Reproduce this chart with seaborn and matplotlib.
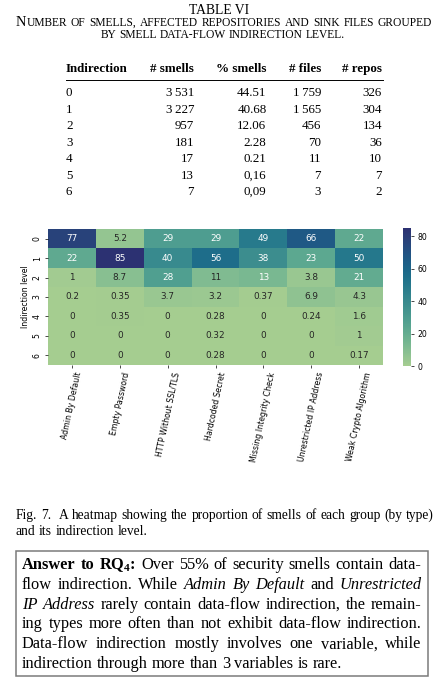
import numpy as np
import pandas as pd
import matplotlib
matplotlib.use("Agg")
import matplotlib.pyplot as plt
import seaborn as sns
from matplotlib.transforms import IdentityTransform
from matplotlib.patches import Rectangle
from matplotlib.lines import Line2D

# ---------------- data ----------------
levels = ["0", "1", "2", "3", "4", "5", "6"]
smell_types = ["Admin By Default", "Empty Password", "HTTP Without SSL/TLS",
               "Hardcoded Secret", "Missing Integrity Check",
               "Unrestricted IP Address", "Weak Crypto Algorithm"]
admin_by_default = [77, 22, 1, 0.2, 0, 0, 0]
empty_password = [5.2, 85, 8.7, 0.35, 0.35, 0, 0]
http_without_tls = [29, 40, 28, 3.7, 0, 0, 0]
hardcoded_secret = [29, 56, 11, 3.2, 0.28, 0.32, 0.28]
missing_integrity = [49, 38, 13, 0.37, 0, 0, 0]
unrestricted_ip = [66, 23, 3.8, 6.9, 0.24, 0, 0]
weak_crypto = [22, 50, 21, 4.3, 1.6, 1, 0.17]
cbar_ticks = [0, 20, 40, 60, 80]

table_header = ["Indirection", "# smells", "% smells", "# files", "# repos"]
tab_level = ["0", "1", "2", "3", "4", "5", "6"]
tab_smells = ["3\u2009531", "3\u2009227", "957", "181", "17", "13", "7"]
tab_pct = ["44.51", "40.68", "12.06", "2.28", "0.21", "0,16", "0,09"]
tab_files = ["1\u2009759", "1\u2009565", "456", "70", "11", "7", "3"]
tab_repos = ["326", "304", "134", "36", "10", "7", "2"]

# ---------------- figure ----------------
W, H = 438, 680
plt.rcParams["mathtext.fontset"] = "custom"
plt.rcParams["mathtext.rm"] = "Liberation Serif"
plt.rcParams["mathtext.bf"] = "Liberation Serif:bold"
plt.rcParams["mathtext.it"] = "Liberation Serif:italic"
fig = plt.figure(figsize=(W / 100, H / 100), dpi=100)
renderer = fig.canvas.get_renderer()
SERIF = ["Liberation Serif", "DejaVu Serif"]
ID = IdentityTransform()


def kw(size, style="n"):
    d = dict(family=SERIF, fontsize=size, color="black")
    if style == "b":
        d["fontweight"] = "bold"
    if style == "i":
        d["fontstyle"] = "italic"
    return d


def inkw(txt, k):
    t = fig.text(0, 0, txt, transform=ID, **k)
    w = t.get_window_extent(renderer).width
    t.remove()
    return w


def pwidth(txt, k):
    if "$" in txt:
        return inkw(txt, k)
    # advance width (including side bearings)
    return inkw("I" + txt + "I", k) - inkw("II", k)


def space_w(k):
    return inkw("I I", k) - inkw("II", k)


def draw_line(words, x0, x1, baseline, justify=True, align="left"):
    # words: list of list of (text, kwargs)
    widths = [sum(pwidth(t, k) for t, k in w) for w in words]
    if justify and len(words) > 1:
        gap = (x1 - x0 - sum(widths)) / (len(words) - 1)
    else:
        gap = space_w(words[0][0][1])
    total = sum(widths) + gap * (len(words) - 1)
    x = x0
    if align == "center":
        x = (x0 + x1) / 2 - total / 2
    for w, wd in zip(words, widths):
        xx = x
        for t, k in w:
            fig.text(xx, H - baseline, t, transform=ID, ha="left", va="baseline", **k)
            xx += pwidth(t, k)
        x += wd + gap


def fit_size(text, style, target, ref=10.0):
    return ref * target / inkw(text, kw(ref, style))


def simple_words(s, size, style="n"):
    return [[(w, kw(size, style))] for w in s.split()]


# ---------------- table title ----------------
ts = fit_size("TABLE VI", "n", 60)
fig.text(W / 2, H - 14, "TABLE VI", transform=ID, ha="center", va="baseline", **kw(ts))

line3 = "BY SMELL DATA-FLOW INDIRECTION LEVEL."
sc = fit_size(line3, "n", 245)
draw_line(simple_words(line3, sc), 100, 345, 37.5, justify=False, align="center")
l2words = "UMBER OF SMELLS, AFFECTED REPOSITORIES AND SINK FILES GROUPED".split()
words = [[("N", kw(sc * 1.25)), (l2words[0], kw(sc))]] + [[(w, kw(sc))] for w in l2words[1:]]
draw_line(words, 16, 432, 26)

# ---------------- table ----------------
tsz = fit_size("Indirection", "b", 62)
col_right = [None, 194, 266.5, 321, 382]
fig.text(66, H - 72.3, table_header[0], transform=ID, ha="left", va="baseline", **kw(tsz, "b"))
for j in range(1, 5):
    fig.text(col_right[j], H - 72.3, table_header[j], transform=ID, ha="right",
             va="baseline", **kw(tsz, "b"))
fig.add_artist(Line2D([66, 383], [H - 80, H - 80], transform=ID, color="black", lw=0.7))
cols = [tab_smells, tab_pct, tab_files, tab_repos]
for i in range(len(tab_level)):
    b = 96.5 + 16.45 * i
    fig.text(66, H - b, tab_level[i], transform=ID, ha="left", va="baseline", **kw(tsz))
    for j, c in enumerate(cols):
        fig.text(col_right[j + 1], H - b, c[i], transform=ID, ha="right", va="baseline", **kw(tsz))

# ---------------- heatmap ----------------
df = pd.DataFrame({
    smell_types[0]: admin_by_default,
    smell_types[1]: empty_password,
    smell_types[2]: http_without_tls,
    smell_types[3]: hardcoded_secret,
    smell_types[4]: missing_integrity,
    smell_types[5]: unrestricted_ip,
    smell_types[6]: weak_crypto,
}, index=levels)

ax = fig.add_axes([48 / W, 1 - 365 / H, (383 - 48) / W, (365 - 229) / H])
cax = fig.add_axes([403 / W, 1 - 366 / H, 8 / W, (366 - 228) / H])
fs = 5.6
sns.heatmap(df, ax=ax, cbar_ax=cax, cmap="crest", vmin=0, vmax=85,
            annot=True, fmt="g", annot_kws={"size": 6.4},
            cbar_kws={"ticks": cbar_ticks})
ax.set_xticklabels(smell_types, rotation=78, fontsize=fs, ha="center")
ax.set_yticklabels(levels, rotation=90, fontsize=fs, va="center")
ax.set_ylabel("Indirection level", fontsize=fs, labelpad=2)
ax.set_xlabel("")
ax.tick_params(length=2.5, width=0.5, pad=2)
cax.tick_params(labelsize=fs, length=2.5, width=0.5, pad=2)

# ---------------- caption ----------------
csz = fit_size("and its indirection level.", "n", 131)
cap1 = [[("Fig.", kw(csz))], [("7.", kw(csz))], [("", kw(csz))]] + \
    simple_words("A heatmap showing the proportion of smells of each group (by type)", csz)
draw_line(cap1, 16, 433.5, 519)
draw_line(simple_words("and its indirection level.", csz), 16, 433, 535, justify=False)

# ---------------- answer box ----------------
fig.add_artist(Rectangle((16, H - 676), 412, 125, transform=ID, fill=False,
                         ec="#7a7a7a", lw=1.1))
bsz = fit_size("indirection through more than 3 variables is rare.", "n", 321)
N = kw(bsz)
B = kw(bsz, "b")
I = kw(bsz, "i")


def mk(s, k):
    return [[(w, k)] for w in s.split()]


box_lines = [
    [[("Answer", B)], [("to", B)], [(r"RQ$_\mathbf{4}$:", B)]] +
    mk("Over 55% of security smells contain data-", N),
    mk("flow indirection. While", N) + mk("Admin By Default", I) + mk("and", N) +
    mk("Unrestricted", I),
    mk("IP Address", I) + mk("rarely contain data-flow indirection, the remain-", N),
    mk("ing types more often than not exhibit data-flow indirection.", N),
    mk("Data-flow indirection mostly involves one variable, while", N),
    mk("indirection through more than 3 variables is rare.", N),
]
for i, ln in enumerate(box_lines):
    draw_line(ln, 22, 421.5, 569 + 19.8 * i, justify=(i < len(box_lines) - 1))

fig.savefig("out.png", dpi=100)
